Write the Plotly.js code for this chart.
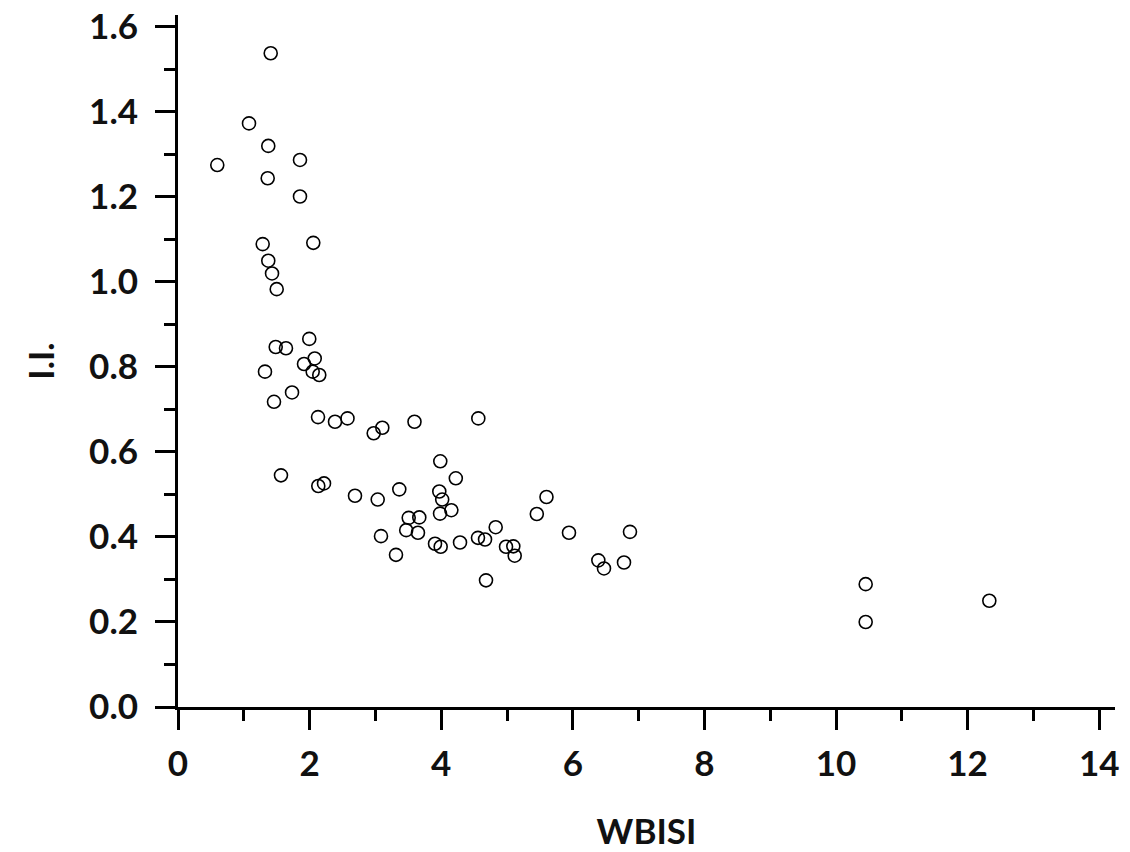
<!DOCTYPE html>
<html>
<head>
<meta charset="utf-8">
<script src="https://cdn.plot.ly/plotly-3.0.1.min.js"></script>
<style>html,body{margin:0;padding:0;background:#fff;}#chart{width:1130px;height:852px;}</style>
</head>
<body>
<div id="chart"></div>
<script>
const wbisi = [0.597,1.079,1.409,1.372,1.363,1.854,1.854,1.287,2.056,1.372,1.429,1.500,1.995,1.485,1.641,2.078,1.915,2.047,2.147,1.322,1.733,1.459,2.128,2.386,2.576,3.594,4.564,2.974,3.105,3.986,4.222,1.565,2.132,2.219,2.690,3.035,3.363,3.971,4.015,3.982,4.154,5.600,5.453,3.506,3.667,3.468,3.647,3.085,3.313,3.906,3.992,4.286,4.559,4.666,4.828,4.985,5.096,5.117,4.681,5.942,6.388,6.474,6.778,6.869,10.451,10.451,12.330];
const ii = [1.275,1.373,1.538,1.320,1.244,1.287,1.201,1.089,1.092,1.050,1.020,0.983,0.866,0.847,0.844,0.820,0.807,0.789,0.781,0.789,0.740,0.718,0.682,0.671,0.679,0.671,0.679,0.644,0.657,0.578,0.538,0.545,0.520,0.526,0.497,0.488,0.512,0.507,0.488,0.455,0.463,0.494,0.454,0.445,0.446,0.416,0.410,0.402,0.358,0.384,0.377,0.387,0.398,0.394,0.423,0.377,0.378,0.356,0.298,0.410,0.345,0.326,0.340,0.412,0.289,0.200,0.250];
const xTitle = "WBISI";
const yTitle = "I.I.";

const fontFam = "Lato, 'Open Sans', sans-serif";
const trace = {
  x: wbisi, y: ii, type: 'scatter', mode: 'markers',
  marker: {symbol: 'circle-open', size: 13, color: '#000', line: {width: 1.6, color: '#000'}},
  hoverinfo: 'x+y'
};
const axisCommon = {
  showgrid: false, zeroline: false, showline: true, linecolor: '#000', linewidth: 3,
  ticks: 'outside', ticklen: 20, tickwidth: 3, tickcolor: '#000',
  tickfont: {family: fontFam, size: 35, color: '#111', weight: 'bold'}
};
const layout = {
  width: 1130, height: 852,
  margin: {l: 178, r: 15, t: 15, b: 145},
  paper_bgcolor: '#fff', plot_bgcolor: '#fff',
  showlegend: false,
  xaxis: Object.assign({}, axisCommon, {
    range: [0, 14.24], dtick: 2, tick0: 0,
    minor: {dtick: 1, ticks: 'outside', ticklen: 11, tickwidth: 3, tickcolor: '#000', showgrid: false},
    ticklabelstandoff: 4,
    title: {text: xTitle, font: {family: fontFam, size: 35, color: '#111', weight: 'bold'}, standoff: 38}
  }),
  yaxis: Object.assign({}, axisCommon, {
    range: [0, 1.628], dtick: 0.2, tick0: 0, tickformat: '.1f',
    minor: {dtick: 0.1, ticks: 'outside', ticklen: 11, tickwidth: 3, tickcolor: '#000', showgrid: false},
    ticklabelstandoff: 10,
    title: {text: yTitle, font: {family: fontFam, size: 35, color: '#111', weight: 'bold'}, standoff: 24}
  })
};
Plotly.newPlot('chart', [trace], layout, {displayModeBar: false, staticPlot: true});
</script>
</body>
</html>
